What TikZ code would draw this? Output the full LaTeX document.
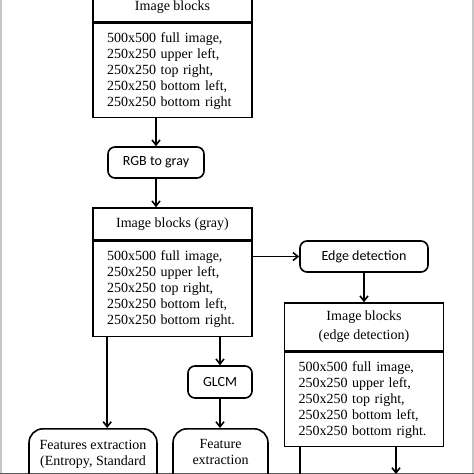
\documentclass[tikz,border=0pt]{standalone}
\usepackage{fontspec}
\setmainfont{Liberation Serif}
\newfontfamily\calibrifont{Carlito}
\usetikzlibrary{arrows.meta}

\begin{document}
\begin{tikzpicture}[x=1pt,y=-1pt,
    every node/.style={font=\fontsize{14}{16}\selectfont},
    title/.style={draw,line width=1.6pt,minimum width=159pt,inner sep=0pt,align=center},
    body/.style={draw,line width=1.6pt,text width=131pt,inner xsep=14pt,inner ysep=0pt,align=left,anchor=north},
    process/.style={draw,line width=1.6pt,rounded corners=7pt,inner sep=0pt,minimum height=31pt,font=\calibrifont\fontsize{14}{16}\selectfont},
    feature/.style={draw,line width=1.6pt,rounded corners=14pt,anchor=north,align=center,inner xsep=0pt,inner ysep=11pt,text depth=60pt},
    arrow/.style={-{Straight Barb[length=5pt,width=8pt]},line width=1.6pt}]
    \useasboundingbox (0,0) rectangle (474,474);
    \clip (0,0) rectangle (474,474);

    % Frame
    \fill[gray!45] (0,0) rectangle (2,474);
    \fill[gray!45] (471.5,0) rectangle (474,474);
    \fill[gray!70!black] (0,473) rectangle (474,474);

    % Image blocks
    \node[title,minimum height=30pt] (blocks) at (172.5,7) {Image blocks};
    \node[body,minimum height=94pt] (blocksbody) at (blocks.south) {500x500 full image,\\250x250 upper left,\\250x250 top right,\\250x250 bottom left,\\250x250 bottom right};

    % Gray conversion
    \node[process,minimum width=96pt] (rgb) at (156,162.5) {RGB to gray};
    \node[title,minimum height=32pt] (gray) at (172.5,224) {Image blocks (gray)};
    \node[body,minimum height=95pt] (graybody) at (gray.south) {500x500 full image,\\250x250 upper left,\\250x250 top right,\\250x250 bottom left,\\250x250 bottom right.};

    % Edge detection branch
    \node[process,minimum width=128pt] (edge) at (364,256.5) {Edge detection};
    \node[title,minimum height=48pt] (edgeblocks) at (364,327) {Image blocks\\[3pt](edge detection)};
    \node[body,minimum height=94pt] (edgebody) at (edgeblocks.south) {500x500 full image,\\250x250 upper left,\\250x250 top right,\\250x250 bottom left,\\250x250 bottom right.};

    % GLCM and features
    \node[process,minimum width=64pt,minimum height=32pt] (glcm) at (220,382) {GLCM};
    \node[feature,minimum width=128pt] (feat1) at (93,428) {Features extraction\\(Entropy, Standard};
    \node[feature,minimum width=95pt] (feat2) at (220.5,428) {Feature\\extraction};

    % Free ends at the bottom
    \coordinate (out1) at (300,480);
    \coordinate (out2) at (396,474);

    % Arrows
    \draw[arrow] (blocksbody.south -| rgb) -- (rgb);
    \draw[arrow] (rgb) -- (gray.north -| rgb);
    \draw[arrow] (graybody.east |- edge) -- (edge);
    \draw[arrow] (edge) -- (edgeblocks);
    \draw[arrow] ([xshift=15pt]graybody.south west) -- ([xshift=15pt]graybody.south west |- feat1.north);
    \draw[arrow] (graybody.south -| glcm) -- (glcm);
    \draw[arrow] (glcm) -- (feat2.north -| glcm);
    \draw[line width=1.6pt] (edgebody.south -| out1) -- (out1);
    \draw[arrow] (edgebody.south -| out2) -- (out2);
\end{tikzpicture}
\end{document}
